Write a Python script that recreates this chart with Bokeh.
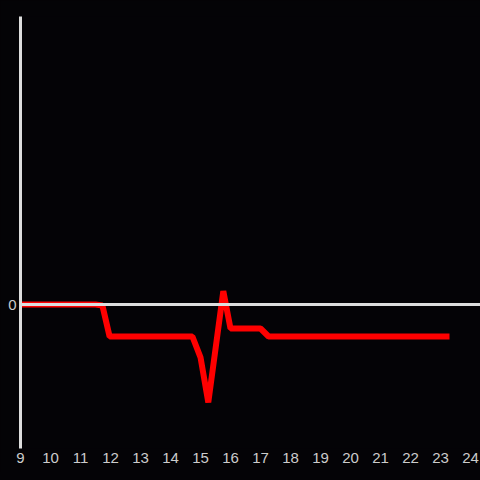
from bokeh.plotting import figure
from bokeh.models import FixedTicker, Span, GlobalInlineStyleSheet
from bokeh.embed import file_html
from bokeh.resources import INLINE

# data
xs = [9, 11.5, 11.73, 11.97, 14.73, 15.0, 15.26, 15.76, 16.0, 17.0, 17.27, 23.3]
ys = [0, 0, -0.03, -1.0, -1.0, -1.65, -3.06, 0.42, -0.75, -0.75, -1.0, -1.0]
x_ticks = list(range(9, 25))
y_ticks = [0]

BG = "#040306"
FG = "#dddddd"

p = figure(frame_width=460, frame_height=432, x_range=(9, 24.333), y_range=(-4.5, 9),
           output_backend="svg", toolbar_location=None,
           min_border_left=20, min_border_top=16, min_border_right=0, min_border_bottom=24,
           background_fill_color=BG, border_fill_color=BG)
p.stylesheets = [GlobalInlineStyleSheet(css="html, body { background-color: %s; }" % BG)]
p.outline_line_color = None
p.grid.visible = False

p.xaxis.ticker = FixedTicker(ticks=x_ticks)
p.xaxis.axis_line_color = None
p.xaxis.major_tick_line_color = None
p.xaxis.major_tick_out = 0
p.xaxis.major_tick_in = 0
p.xaxis.minor_tick_line_color = None
p.xaxis.major_label_text_color = "#cccccc"
p.xaxis.major_label_text_font_size = "15px"
p.xaxis.major_label_standoff = 4

p.yaxis.ticker = FixedTicker(ticks=y_ticks)
p.yaxis.axis_line_color = FG
p.yaxis.axis_line_width = 3
p.yaxis.major_tick_line_color = None
p.yaxis.major_tick_out = 0
p.yaxis.major_tick_in = 0
p.yaxis.minor_tick_line_color = None
p.yaxis.major_label_text_color = "#cccccc"
p.yaxis.major_label_text_font_size = "15px"
p.yaxis.major_label_standoff = 4

p.add_layout(Span(location=0, dimension="width", line_color=FG, line_width=3))

p.line(xs, ys, line_color="#ff0000", line_width=6)

open("out.html", "w").write(file_html(p, INLINE))
